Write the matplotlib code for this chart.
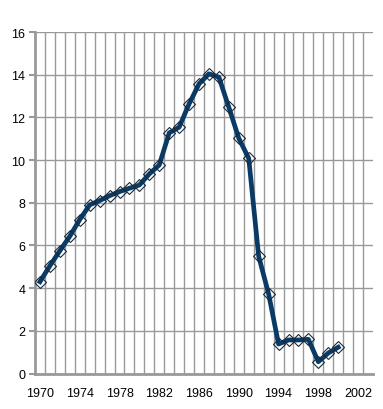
import numpy as np
import matplotlib.pyplot as plt

plt.rcParams['font.family'] = ['Liberation Sans', 'DejaVu Sans']

# Values
years = list(range(1970, 2001))
values = [4.30, 5.05, 5.75, 6.43, 7.21, 7.90, 8.10, 8.33, 8.52, 8.68,
          8.83, 9.35, 9.77, 11.27, 11.54, 12.63, 13.57, 14.04, 13.88, 12.47,
          11.02, 10.08, 5.49, 3.73, 1.38, 1.57, 1.57, 1.60, 0.55, 0.96, 1.23]
xtick_years = list(range(1970, 2003, 4))
yticks = list(range(0, 17, 2))

grid_col = '#999999'
line_col = '#0a3a66'

fig = plt.figure(figsize=(3.83, 4.10), dpi=100)
ax = fig.add_axes([35 / 383, (410 - 374.5) / 410, (373 - 35) / 383, (374.5 - 33) / 410])

ax.plot(years, values, color=line_col, lw=3.4, solid_joinstyle='round', zorder=3)
ax.plot(years, values, ls='none', marker='D', ms=6.5, mfc='none', mec='#1a2a3a',
        mew=0.8, zorder=4)

ax.set_xlim(1969.5, 2003.5)
ax.set_ylim(0, 16)
ax.set_yticks(yticks)
ax.set_xticks(xtick_years)
ax.set_xticks(np.arange(1970.5, 2003, 1), minor=True)

ax.grid(axis='y', which='major', color=grid_col, lw=1)
ax.grid(axis='x', which='minor', color=grid_col, lw=1)
ax.set_axisbelow(True)

for s in ['top', 'right']:
    ax.spines[s].set_visible(False)
for s in ['left', 'bottom']:
    ax.spines[s].set_color(grid_col)
    ax.spines[s].set_linewidth(2)

ax.tick_params(axis='y', length=4, width=1.5, color=grid_col, pad=3, labelsize=9)
ax.tick_params(axis='x', which='both', length=0, pad=10, labelsize=9)

fig.savefig('out.png', dpi=100)
